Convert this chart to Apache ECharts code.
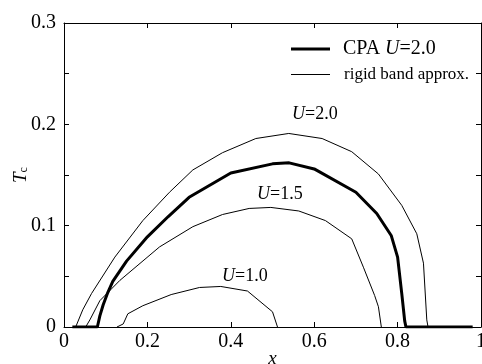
<!DOCTYPE html>
<html>
<head>
<meta charset="utf-8">
<script src="https://cdn.jsdelivr.net/npm/echarts@6/dist/echarts.min.js"></script>
<style>
  html, body { margin: 0; padding: 0; background: #fff; }
  #main { width: 482px; height: 364px; }
</style>
</head>
<body>
<div id="main"></div>
<script>
// x ticks / y ticks
var xTicks = [0, 0.2, 0.4, 0.6, 0.8, 1];
var yTicks = [0, 0.1, 0.2, 0.3];

// CPA U=2.0 (thick)
var cpaU20 = [[0.02, 0], [0.08, 0], [0.086, 0.011], [0.094, 0.022], [0.105, 0.034], [0.117, 0.045],
  [0.15, 0.065], [0.2, 0.089], [0.25, 0.109], [0.3, 0.128], [0.4, 0.152], [0.5, 0.161], [0.54, 0.162],
  [0.6, 0.156], [0.7, 0.133], [0.75, 0.112], [0.785, 0.09], [0.8, 0.069], [0.81, 0.033], [0.817, 0.006],
  [0.82, 0], [0.98, 0]];

// rigid band approx. (thin)
var rigidU20 = [[0.028, 0], [0.045, 0.017], [0.066, 0.033], [0.122, 0.069], [0.189, 0.105], [0.253, 0.133],
  [0.309, 0.155], [0.38, 0.172], [0.46, 0.186], [0.539, 0.191], [0.619, 0.186], [0.69, 0.173], [0.754, 0.151],
  [0.81, 0.12], [0.846, 0.092], [0.862, 0.063], [0.87, 0.007], [0.873, 0]];
var rigidU15 = [[0.052, 0], [0.062, 0.007], [0.086, 0.026], [0.134, 0.046], [0.229, 0.079], [0.309, 0.099],
  [0.38, 0.111], [0.444, 0.117], [0.496, 0.118], [0.563, 0.1145], [0.627, 0.105], [0.69, 0.087], [0.718, 0.059],
  [0.745, 0.031], [0.754, 0.02], [0.761, 0]];
var rigidU10 = [[0.127, 0], [0.142, 0.003], [0.153, 0.013], [0.189, 0.021], [0.257, 0.032], [0.325, 0.039],
  [0.376, 0.04], [0.44, 0.0355], [0.5, 0.015], [0.512, 0]];

var serif = '"Liberation Serif", "DejaVu Serif", serif';

var chart = echarts.init(document.getElementById('main'));

function thin(data, name) {
  return {
    name: name, type: 'line', data: data, symbol: 'none',
    lineStyle: { color: '#000', width: 1 }, itemStyle: { color: '#000' }
  };
}

var frame = { show: true, onZero: false, lineStyle: { color: '#000', width: 1 } };
var tick = { show: true, inside: true, length: 5, lineStyle: { color: '#000', width: 1 } };

var option = {
  backgroundColor: '#fff',
  animation: false,
  grid: { left: 64, top: 23, width: 417, height: 304, outerBoundsMode: 'none', containLabel: false },
  legend: [
    {
      data: ['CPA U=2.0'], left: 286, top: 34, icon: 'rect', itemWidth: 39, itemHeight: 3,
      formatter: function () { return '{a|CPA }{i|U}{a|=2.0}'; },
      textStyle: {
        padding: [0, 0, 0, 8],
        rich: {
          a: { fontFamily: serif, fontSize: 20, color: '#000' },
          i: { fontFamily: serif, fontSize: 20, fontStyle: 'italic', color: '#000' }
        }
      }
    },
    {
      data: ['rigid band approx.'], left: 286, top: 61, icon: 'rect', itemWidth: 39, itemHeight: 1,
      textStyle: { fontFamily: serif, fontSize: 17, color: '#000', padding: [0, 0, 0, 9] }
    }
  ],
  xAxis: [
    {
      type: 'value', min: 0, max: 1, interval: 0.2,
      name: 'x', nameLocation: 'middle', nameGap: 22, nameMoveOverlap: false,
      nameTextStyle: { fontFamily: serif, fontSize: 19, fontStyle: 'italic', color: '#000' },
      axisLine: frame, axisTick: tick,
      axisLabel: {
        margin: 5, fontFamily: serif, fontSize: 20, color: '#000',
        formatter: function (v) { return (v === 0 || v === 1) ? String(v) : v.toFixed(1); }
      },
      splitLine: { show: false }
    },
    {
      type: 'value', position: 'top', min: 0, max: 1, interval: 0.2,
      axisLine: frame, axisTick: tick,
      axisLabel: { show: false }, splitLine: { show: false }
    }
  ],
  yAxis: [
    {
      type: 'value', min: 0, max: 0.3, interval: 0.05,
      name: '{i|T}{s|c}', nameLocation: 'middle', nameGap: 34, nameRotate: 90, nameMoveOverlap: false,
      nameTextStyle: {
        rich: {
          i: { fontFamily: serif, fontSize: 19, fontStyle: 'italic', color: '#000' },
          s: { fontFamily: serif, fontSize: 12, color: '#000', padding: [6, 0, 0, 0] }
        }
      },
      axisLine: frame, axisTick: tick,
      axisLabel: {
        margin: 8, fontFamily: serif, fontSize: 20, color: '#000',
        formatter: function (v) {
          var i = yTicks.findIndex(function (t) { return Math.abs(t - v) < 1e-6; });
          if (i < 0) return '';
          return i === 0 ? '0' : yTicks[i].toFixed(1);
        }
      },
      splitLine: { show: false }
    },
    {
      type: 'value', position: 'right', min: 0, max: 0.3, interval: 0.05,
      axisLine: frame, axisTick: tick,
      axisLabel: { show: false }, splitLine: { show: false }
    }
  ],
  graphic: [
    { type: 'text', left: 292, top: 105, style: { text: '{i|U}{a|=2.0}', rich: {
      a: { fontFamily: serif, fontSize: 18, fill: '#000' },
      i: { fontFamily: serif, fontSize: 18, fontStyle: 'italic', fill: '#000' } } } },
    { type: 'text', left: 257, top: 185, style: { text: '{i|U}{a|=1.5}', rich: {
      a: { fontFamily: serif, fontSize: 18, fill: '#000' },
      i: { fontFamily: serif, fontSize: 18, fontStyle: 'italic', fill: '#000' } } } },
    { type: 'text', left: 222, top: 267, style: { text: '{i|U}{a|=1.0}', rich: {
      a: { fontFamily: serif, fontSize: 18, fill: '#000' },
      i: { fontFamily: serif, fontSize: 18, fontStyle: 'italic', fill: '#000' } } } }
  ],
  series: [
    {
      name: 'CPA U=2.0', type: 'line', data: cpaU20, symbol: 'none',
      lineStyle: { color: '#000', width: 3 }, itemStyle: { color: '#000' }, z: 3
    },
    thin(rigidU20, 'rigid band approx.'),
    thin(rigidU15, 'rigid band approx.'),
    thin(rigidU10, 'rigid band approx.')
  ]
};

chart.setOption(option);
</script>
</body>
</html>
